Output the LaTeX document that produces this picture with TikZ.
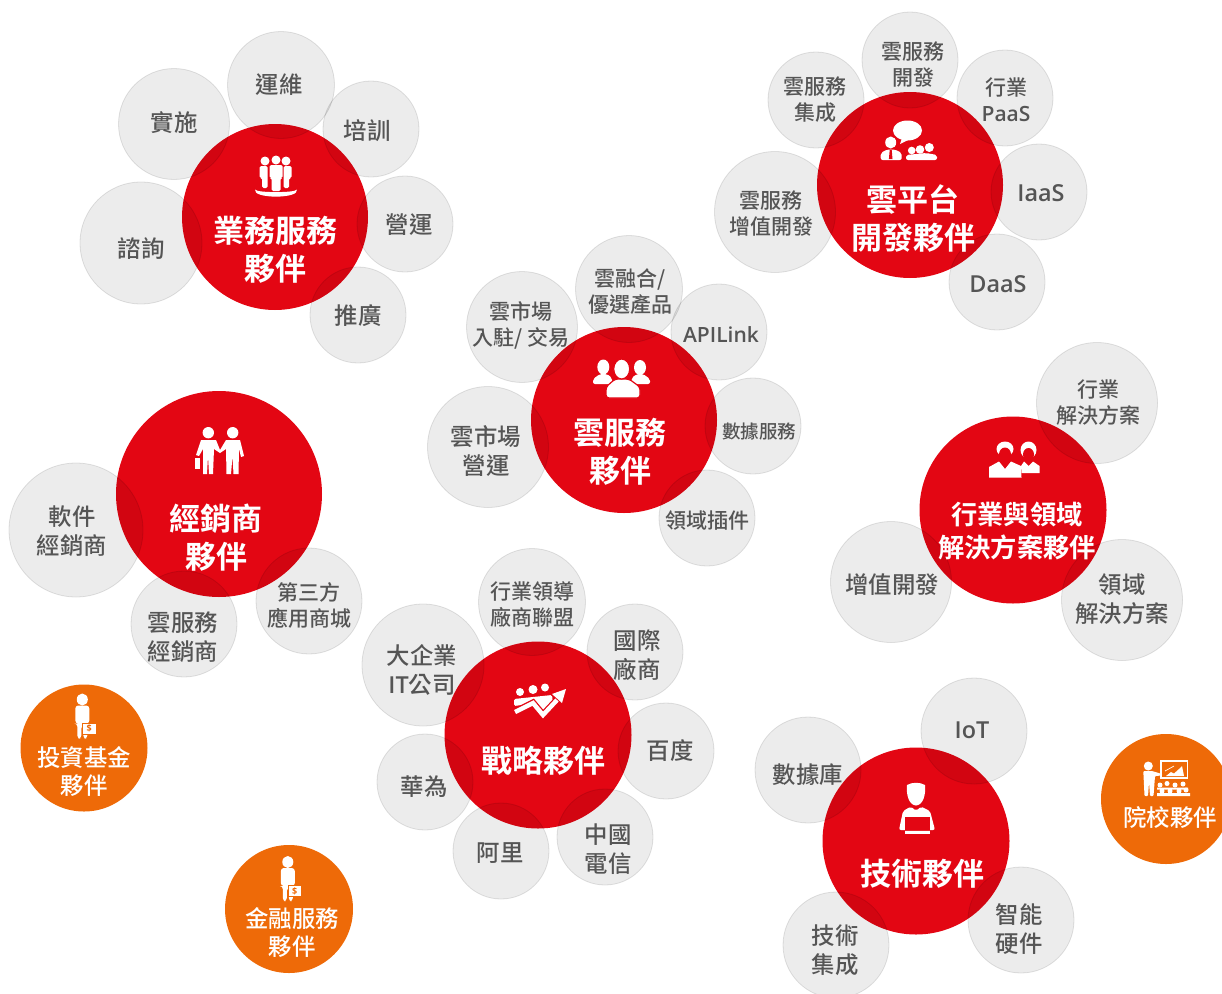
\documentclass[tikz,border=0pt]{standalone}
\usepackage{fontspec}
\setmainfont{Open Sans}
\newfontfamily\cjk{Noto Sans CJK TC Medium}[BoldFont={Noto Sans CJK TC Bold}]
\newfontfamily\latinfont{Open Sans Semibold}
\definecolor{corered}{HTML}{E30613}
\definecolor{fundorange}{HTML}{EE6A08}
\definecolor{graytext}{HTML}{555555}
\tikzset{
  coreball/.style={circle,fill=corered,inner sep=0pt,minimum size=#1},
  fundball/.style={circle,fill=fundorange,inner sep=0pt,minimum size=#1},
  partnerball/.style={circle,fill=black,fill opacity=0.075,draw=black,draw opacity=0.11,line width=0.8pt,inner sep=0pt,minimum size=#1},
  partnertext/.style={text=graytext,align=center,inner sep=0pt,font=\fontsize{23.4}{29}\selectfont\cjk},
  smalltext/.style={text=graytext,align=center,inner sep=0pt,font=\fontsize{21}{26}\selectfont\cjk},
  coretext/.style={text=white,align=center,inner sep=0pt,font=\fontsize{31}{38}\selectfont\cjk\bfseries},
  fundtext/.style={text=white,align=center,inner sep=0pt,font=\fontsize{23.4}{28}\selectfont\cjk},
  investor/.pic={
    \fill[white] (0,0) ellipse (5.5pt and 6pt);
    \fill[white,rounded corners=3pt] (-7,6) -- (7,6) -- (7,24) -- (5,24) -- (5,39) -- (1,39) -- (1,26) -- (-1,26) -- (-1,39) -- (-5,39) -- (-5,24) -- (-7,24) -- cycle;
    \filldraw[fill=white,draw=fundorange,line width=0.8pt] (0.5,23.5) rectangle (14,34.5);
    \node[text=fundorange,inner sep=0pt,font=\fontsize{9}{9}\selectfont\bfseries] (dollar) at (7,29) {\$};
  }
}
\begin{document}
\begin{tikzpicture}[x=1pt,y=-1pt]
\useasboundingbox (0,0) rectangle (1222,993);
\clip (0,0) rectangle (1222,993);

% Draw the red balls
\node[coreball=186pt] (business) at (275,217) {};
\node[coreball=186pt] (cloudplat) at (910,185) {};
\node[coreball=186pt] (cloudsrv) at (624,420) {};
\node[coreball=206pt] (reseller) at (219,494) {};
\node[coreball=187pt] (industry) at (1013,510) {};
\node[coreball=187pt] (strategy) at (538,735) {};
\node[coreball=187pt] (tech) at (916,841) {};

% Draw the orange balls
\node[fundball=127pt] (fund) at (84,748) {};
\node[fundball=128pt] (finance) at (289,909) {};
\node[fundball=130pt] (school) at (1166,799) {};

% Draw the gray balls round the business ball
\node[partnerball=107pt] (ops) at (281,85) {};
\node[partnerball=111pt] (deploy) at (174,124) {};
\node[partnerball=96pt] (train) at (371,129) {};
\node[partnerball=96pt] (run) at (405,224) {};
\node[partnerball=96pt] (promo) at (358,315) {};
\node[partnerball=122pt] (consult) at (141,243) {};

% Draw the gray balls round the platform ball
\node[partnerball=96pt] (dev) at (910,60) {};
\node[partnerball=96pt] (integ) at (816,100) {};
\node[partnerball=96pt] (paas) at (1005,98) {};
\node[partnerball=96pt] (iaas) at (1039,192) {};
\node[partnerball=96pt] (daas) at (997,282) {};
\node[partnerball=121pt] (valuedev) at (775,212) {};

% Draw the gray balls round the service ball
\node[partnerball=107pt] (fusion) at (629,289) {};
\node[partnerball=111pt] (market) at (522,327) {};
\node[partnerball=96pt] (apilink) at (719,332) {};
\node[partnerball=96pt] (data) at (753,426) {};
\node[partnerball=96pt] (plugin) at (707,518) {};
\node[partnerball=121pt] (marketrun) at (488,447) {};

% Draw the gray balls round the reseller ball
\node[partnerball=134pt] (softsell) at (76,530) {};
\node[partnerball=106pt] (cloudsell) at (184,624) {};
\node[partnerball=106pt] (thirdparty) at (309,601) {};

% Draw the gray balls round the industry ball
\node[partnerball=121pt] (indsol) at (1097,403) {};
\node[partnerball=121pt] (domsol) at (1122,600) {};
\node[partnerball=121pt] (valueadd) at (891,582) {};

% Draw the gray balls round the strategy ball
\node[partnerball=107pt] (leader) at (532,602) {};
\node[partnerball=96pt] (intl) at (635,652) {};
\node[partnerball=96pt] (baidu) at (666,751) {};
\node[partnerball=96pt] (telecom) at (605,837) {};
\node[partnerball=96pt] (ali) at (501,851) {};
\node[partnerball=96pt] (huawei) at (425,782) {};
\node[partnerball=122pt] (bigco) at (423,665) {};

% Draw the gray balls round the tech ball
\node[partnerball=106pt] (iot) at (974,731) {};
\node[partnerball=106pt] (database) at (808,770) {};
\node[partnerball=106pt] (hardware) at (1021,920) {};
\node[partnerball=106pt] (techint) at (836,945) {};

% Draw the gray labels
\node[partnertext] (opslabel) at (279,85) {運維};
\node[partnertext] (deploylabel) at (174,123) {實施};
\node[partnertext] (trainlabel) at (367,131) {培訓};
\node[partnertext] (runlabel) at (409,225) {營運};
\node[partnertext] (promolabel) at (358,316) {推廣};
\node[partnertext] (consultlabel) at (141,249) {諮詢};
\node[smalltext] (devlabel) at (913,65) {雲服務\\開發};
\node[smalltext] (integlabel) at (815,100) {雲服務\\集成};
\node[smalltext] (paaslabel) at (1006,100) {行業\\{\latinfont PaaS}};
\node[partnertext] (iaaslabel) at (1041,193) {\latinfont IaaS};
\node[partnertext] (daaslabel) at (998,284) {\latinfont DaaS};
\node[smalltext] (valuedevlabel) at (771,214) {雲服務\\增值開發};
\node[smalltext] (fusionlabel) at (630,292) {雲融合/\\優選產品};
\node[smalltext] (marketlabel) at (521,325) {雲市場\\入駐/ 交易};
\node[smalltext] (apilinklabel) at (721,335) {\latinfont APILink};
\node[smalltext,font=\fontsize{18.5}{24}\selectfont\cjk] (datalabel) at (759,431) {數據服務};
\node[smalltext] (pluginlabel) at (707,520) {領域插件};
\node[partnertext] (marketrunlabel) at (486,451) {雲市場\\營運};
\node[partnertext] (softselllabel) at (72,531) {軟件\\經銷商};
\node[partnertext] (cloudselllabel) at (183,637) {雲服務\\經銷商};
\node[smalltext] (thirdpartylabel) at (309,605) {第三方\\應用商城};
\node[smalltext] (indsollabel) at (1098,403) {行業\\解決方案};
\node[partnertext] (domsollabel) at (1122,599) {領域\\解決方案};
\node[partnertext] (valueaddlabel) at (892,585) {增值開發};
\node[partnertext] (bigcolabel) at (422,670) {大企業\\{\latinfont IT}公司};
\node[smalltext] (leaderlabel) at (532,604) {行業領導\\廠商聯盟};
\node[partnertext] (intllabel) at (637,655) {國際\\廠商};
\node[partnertext] (baidulabel) at (670,751) {百度};
\node[partnertext] (telecomlabel) at (608,849) {中國\\電信};
\node[partnertext] (alilabel) at (500,853) {阿里};
\node[partnertext] (huaweilabel) at (424,787) {華為};
\node[partnertext] (iotlabel) at (972,730) {\latinfont IoT};
\node[partnertext] (databaselabel) at (808,775) {數據庫};
\node[partnertext] (hardwarelabel) at (1019,929) {智能\\硬件};
\node[partnertext] (techintlabel) at (835,950) {技術\\集成};

% Draw the white labels
\node[coretext] (businesslabel) at (275,250) {業務服務\\夥伴};
\node[coretext] (cloudplatlabel) at (913,218) {雲平台\\開發夥伴};
\node[coretext] (cloudsrvlabel) at (620,452) {雲服務\\夥伴};
\node[coretext] (resellerlabel) at (216,538) {經銷商\\夥伴};
\node[coretext,font=\fontsize{26.3}{33}\selectfont\cjk\bfseries] (industrylabel) at (1017,531) {行業與領域\\解決方案夥伴};
\node[coretext] (strategylabel) at (543,761) {戰略夥伴};
\node[coretext] (techlabel) at (922,874) {技術夥伴};
\node[fundtext] (fundlabel) at (84,772) {投資基金\\夥伴};
\node[fundtext] (financelabel) at (292,933) {金融服務\\夥伴};
\node[fundtext] (schoollabel) at (1170,818) {院校夥伴};

% Draw the business icon
\fill[white] (265,161) circle (4.5pt) (276,160) circle (4.5pt) (286,161) circle (4.5pt);
\fill[white,rounded corners=1.5pt] (259.5,166) -- (267.5,166) -- (267.5,188) -- (262,188) -- (262,178) -- (259.5,178) -- cycle;
\fill[white,rounded corners=1.5pt] (283.5,166) -- (291.5,166) -- (291.5,178) -- (289,178) -- (289,188) -- (283.5,188) -- cycle;
\fill[white,rounded corners=1.5pt] (269.5,165) -- (282.5,165) -- (282.5,178) -- (280.5,178) -- (280.5,191) -- (271.5,191) -- (271.5,178) -- (269.5,178) -- cycle;
\fill[white] (255,189.5) .. controls (252,199) and (300,199) .. (297,189.5) .. controls (296,193) and (256,193) .. (255,189.5) -- cycle;

% Draw the platform icon
\fill[white] (907.5,130.5) ellipse (14.5pt and 10pt);
\fill[white] (902,138) -- (900,144) -- (908,140) -- cycle;
\fill[white] (890.7,142.5) ellipse (5.5pt and 6pt);
\fill[white,rounded corners=2pt] (880.7,160) -- (880.7,153) -- (887,149.5) -- (895,149.5) -- (901.7,153) -- (901.7,160) -- cycle;
\fill[corered] (889.7,150) -- (891.7,150) -- (892.5,159) -- (888.9,159) -- cycle;
\fill[white] (911.7,150.5) circle (3.8pt) (920,149.5) circle (4.3pt) (929.3,147.5) circle (4.5pt);
\fill[white,rounded corners=2pt] (906,160) -- (906,155) -- (926,153) -- (937,155) -- (937,160) -- cycle;

% Draw the service icon
\fill[white] (603.3,367) ellipse (6pt and 7.5pt) (640,367.5) ellipse (6pt and 7.5pt);
\fill[white,rounded corners=2pt] (593,384) -- (593,379) -- (600,374) -- (607,374) -- (612,378) -- (612,384) -- cycle;
\fill[white,rounded corners=2pt] (631.5,384) -- (631.5,378) -- (637,374) -- (643,374) -- (650,379) -- (650,384) -- cycle;
\filldraw[fill=white,draw=corered,line width=1.2pt,rounded corners=3pt] (606,398) -- (606,387) -- (615,379) -- (629,379) -- (640,387) -- (640,398) -- cycle;
\filldraw[fill=white,draw=corered,line width=1.2pt] (621.7,369) ellipse (8pt and 10pt);

% Draw the reseller icon
\fill[white] (208.3,432.7) circle (5.7pt) (232.7,432.7) circle (5.7pt);
\fill[white] (201,440) -- (216,440) -- (220,450) -- (226,440) -- (240,440) -- (244,456) -- (241,457) -- (239,449) -- (238.5,474) -- (233.5,474) -- (232.5,456) -- (231,474) -- (226.5,474) -- (226,449) -- (220,453) -- (214,449) -- (213,474) -- (209,474) -- (208,456) -- (207,474) -- (203,474) -- (203,449) -- (199,456) -- (196,455) -- cycle;
\fill[white] (195,458) rectangle (200,469);

% Draw the industry icon
\fill[white] (1005,449) ellipse (8.5pt and 7.5pt);
\fill[white] (1028.5,450) ellipse (8pt and 8.5pt);
\fill[corered] (1005,454.5) ellipse (6pt and 7pt) (1028.5,454.5) ellipse (5.5pt and 6.5pt);
\fill[white] (989,477.5) -- (989,467) -- (999,461.5) -- (1005,469) -- (1011,461.5) -- (1021,466) -- (1022,473) -- (1039.5,473) -- (1039.5,466) -- (1033,461.5) -- (1028.5,466) -- (1024,461.5) -- (1021,466) -- (1021.5,477.5) -- cycle;

% Draw the strategy icon
\fill[white] (520,692) circle (4pt) (533,689.5) circle (4.5pt) (545,687.5) circle (4pt);
\fill[white,rounded corners=1.5pt] (514,706) -- (514,699) -- (552,695) -- (553,704) -- (540,712) -- (530,704) -- cycle;
\draw[corered,line width=7pt] (513,713) -- (533,703) -- (543,715) -- (558,699);
\draw[white,line width=4.5pt] (515,712) -- (533,703) -- (543,715) -- (557,700);
\fill[white] (552,694) -- (566,689) -- (562,703) -- cycle;

% Draw the tech icon
\fill[white] (907,785) .. controls (912,782) and (920,782) .. (925,785) .. controls (926,795) and (923,805) .. (916,805.5) .. controls (909,805) and (906,795) .. (907,785) -- cycle;
\fill[white,rounded corners=2pt] (899,830) -- (903,811) -- (911,806.5) -- (916,811) -- (921,806.5) -- (930,811) -- (935,830) -- cycle;
\fill[corered] (904.5,816.5) rectangle (929.5,829.5);
\fill[white] (904.5,831) rectangle (929.5,833.5);

% Draw the school icon
\draw[white,line width=1.4pt] (1161,761) rectangle (1187.5,778);
\fill[white] (1166,776) -- (1171,772) -- (1174,773.5) -- (1179,769) -- (1182,766) -- (1184,776) -- cycle;
\draw[white,line width=0.7pt] (1165,771) -- (1174,766);
\fill[white] (1148.3,766) circle (4.5pt);
\fill[white,rounded corners=1pt] (1143.3,771) -- (1152,771) -- (1162,774) -- (1162,775.5) -- (1155,776) -- (1153.5,796) -- (1150,796) -- (1149,782) -- (1148,796) -- (1144.5,796) -- cycle;
\fill[white] (1160,785) circle (2.5pt) (1167,783.5) circle (2.5pt) (1175,785) circle (2.5pt) (1183,784) circle (2.5pt);
\fill[white] (1162,791) circle (2.5pt) (1170,791) circle (2.5pt) (1179,791) circle (2.5pt) (1186,790) circle (2.5pt);
\fill[white] (1157,787.5) rectangle (1188,789.5) (1157,793) rectangle (1190,796);

% Draw the two investors
\pic at (82.3,699.5) {investor};
\pic at (287.8,862) {investor};
\end{tikzpicture}
\end{document}
